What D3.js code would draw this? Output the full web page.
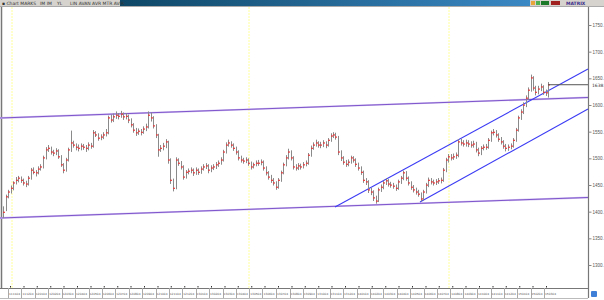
<!DOCTYPE html>
<html lang="en">
<head>
    <meta charset="UTF-8">
    <title>Price chart</title>
    <script src="https://d3js.org/d3.v7.min.js"></script>
    <style>
        body { margin: 0; background: #fff; }
        svg { display: block; font-family: "DejaVu Sans", sans-serif; }
    </style>
</head>
<body>
<svg width="604" height="300"></svg>
<script>
    // closing prices, one per bar
    var closes = [1399,1428,1437,1444,1454,1459,1463,1459,1454,1452,1463,1478,1474,1473,1480,1484,1501,1516,1519,1512,
        1510,1514,1503,1488,1478,1497,1516,1529,1525,1521,1519,1523,1521,1519,1525,1523,1548,1544,1538,1540,
        1544,1548,1576,1572,1578,1581,1579,1583,1578,1579,1572,1563,1553,1548,1551,1549,1555,1559,1581,1576,
        1561,1544,1516,1519,1523,1531,1497,1459,1444,1497,1491,1484,1465,1474,1476,1478,1473,1478,1474,1480,
        1484,1486,1478,1482,1484,1488,1491,1497,1512,1525,1529,1525,1519,1512,1501,1497,1495,1497,1491,1484,
        1488,1491,1491,1493,1482,1473,1465,1459,1454,1446,1459,1473,1488,1501,1512,1501,1484,1482,1486,1484,
        1488,1491,1506,1519,1525,1529,1525,1525,1529,1525,1534,1542,1544,1540,1512,1501,1493,1489,1493,1501,
        1497,1489,1482,1474,1459,1456,1441,1437,1426,1420,1441,1446,1454,1458,1452,1450,1448,1444,1456,1463,
        1473,1463,1454,1446,1441,1437,1433,1424,1437,1450,1459,1456,1454,1456,1458,1459,1478,1497,1503,1501,
        1503,1506,1531,1529,1527,1529,1527,1525,1527,1516,1510,1519,1521,1521,1534,1548,1549,1544,1536,1531,
        1523,1519,1521,1523,1534,1553,1576,1587,1600,1613,1628,1651,1632,1624,1630,1634,1624,1623,1638];
    var highs = [1410,1432,1441,1449,1457,1465,1467,1466,1462,1458,1467,1482,1483,1478,1485,1489,1505,1521,1525,1522,
        1516,1519,1517,1506,1491,1501,1520,1552,1533,1528,1526,1528,1527,1525,1530,1529,1553,1551,1547,1545,
        1549,1555,1580,1582,1584,1588,1585,1589,1586,1585,1582,1575,1566,1557,1556,1555,1560,1565,1588,1586,
        1579,1564,1546,1525,1529,1536,1533,1500,1462,1502,1500,1495,1487,1478,1481,1483,1481,1483,1481,1485,
        1489,1491,1489,1487,1489,1493,1496,1502,1516,1530,1535,1532,1528,1522,1515,1505,1501,1502,1500,1494,
        1492,1496,1497,1498,1496,1485,1476,1469,1463,1457,1463,1477,1492,1506,1518,1515,1504,1489,1491,1490,
        1493,1496,1510,1524,1530,1535,1532,1531,1534,1532,1538,1547,1549,1548,1542,1515,1504,1497,1498,1505,
        1504,1500,1492,1485,1477,1463,1459,1445,1440,1430,1445,1451,1458,1463,1461,1456,1454,1451,1460,1467,
        1477,1476,1466,1457,1450,1445,1441,1436,1441,1454,1464,1463,1460,1461,1463,1464,1482,1501,1508,1508,
        1509,1511,1536,1537,1534,1535,1534,1532,1533,1531,1520,1523,1526,1527,1538,1552,1555,1553,1547,1540,
        1534,1527,1526,1528,1538,1557,1580,1592,1605,1618,1633,1657,1654,1636,1636,1640,1637,1629,1643];
    var lows = [1388,1401,1425,1434,1440,1451,1455,1454,1449,1446,1449,1460,1470,1466,1470,1477,1481,1498,1512,1507,
        1504,1506,1499,1484,1472,1475,1494,1512,1520,1515,1513,1515,1516,1512,1515,1518,1520,1540,1533,1534,
        1536,1541,1545,1567,1568,1574,1573,1576,1572,1573,1566,1558,1548,1542,1544,1543,1546,1551,1556,1569,
        1556,1538,1503,1512,1515,1519,1490,1452,1438,1442,1486,1479,1460,1462,1470,1472,1467,1469,1469,1471,
        1477,1480,1472,1474,1478,1480,1484,1488,1494,1509,1522,1520,1514,1507,1496,1492,1490,1491,1486,1479,
        1481,1485,1486,1487,1477,1468,1460,1454,1449,1441,1443,1456,1470,1485,1498,1496,1479,1477,1478,1479,
        1481,1485,1488,1503,1516,1522,1520,1519,1521,1519,1522,1531,1538,1535,1506,1495,1488,1484,1485,1490,
        1492,1484,1477,1469,1454,1450,1435,1431,1420,1415,1418,1437,1442,1450,1447,1445,1443,1439,1441,1452,
        1459,1458,1449,1441,1436,1432,1428,1419,1421,1434,1446,1451,1449,1450,1452,1453,1456,1474,1492,1496,
        1497,1499,1502,1524,1522,1522,1521,1520,1520,1511,1504,1506,1515,1516,1518,1531,1543,1539,1531,1526,
        1518,1513,1514,1517,1520,1531,1550,1572,1583,1596,1609,1625,1627,1618,1620,1626,1619,1617,1614];

    // price axis ticks
    var priceTicks = [1300, 1350, 1400, 1450, 1500, 1550, 1600, 1650, 1700, 1750];

    // drawn trend lines, [bar index, price] pairs
    var upperChannel = [[-1.2, 1575.6], [234, 1614.1]];
    var lowerChannel = [[-1.2, 1388.1], [234, 1426.6]];
    var riseTop = [[132.8, 1408.8], [234, 1667.5]];
    var riseBottom = [[166.8, 1418.1], [234, 1592.5]];

    // year separators (bar index) and month boxes on the date strip
    var yearStarts = [3.6, 98.4, 178.4];
    var monthStarts = [2, 7.4, 12.7, 18.1, 23.4, 28.8, 34.2, 39.5, 44.9, 50.2, 55.6, 61, 66.3, 71.7, 77, 82.4,
        87.8, 93.1, 98.5, 103.8, 109.2, 114.6, 119.9, 125.3, 130.6, 136, 141.4, 146.7, 152.1, 157.4, 162.8,
        168.2, 173.5, 178.9, 184.2, 189.6, 195, 200.3, 205.7, 211, 216.4];
    var monthLabels = ["111104","111204","120104","120204","120304","120404","120504","120604","120704","120804",
        "120904","121004","121104","121204","130104","130204","130304","130404","130504","130604",
        "130704","130804","130904","131004","131104","131204","140104","140204","140304","140404",
        "140504","140604","140704","140804","140904","141004","141104","141204","150104","150204","150304"];

    var svg = d3.select("svg");
    var plotTop = 7, plotBottom = 288, axisX = 588;

    var x = d3.scaleLinear().domain([0, 234]).range([3, axisX]);
    var y = d3.scaleLinear().domain([1300, 1750]).range([265, 25]);

    // toolbar
    var defs = svg.append("defs");
    var grad = defs.append("linearGradient").attr("id", "bar");
    grad.append("stop").attr("offset", "0%").attr("stop-color", "#0e4766");
    grad.append("stop").attr("offset", "100%").attr("stop-color", "#3a88c4");

    svg.append("rect").attr("x", 0).attr("y", 0).attr("width", 604).attr("height", 6).attr("fill", "#d6d3ce");
    svg.append("rect").attr("x", 120).attr("y", 0).attr("width", 410).attr("height", 6).attr("fill", "url(#bar)");
    svg.append("line").attr("x1", 0).attr("x2", 604).attr("y1", 6.5).attr("y2", 6.5).attr("stroke", "#aaa");
    svg.append("text").attr("x", 2).attr("y", 5).attr("font-size", 4.5).attr("fill", "#333")
        .text("▪ Chart MARKS");
    svg.append("text").attr("x", 40).attr("y", 5).attr("font-size", 4.5).attr("fill", "#333").text("IM IM");
    svg.append("text").attr("x", 57).attr("y", 5).attr("font-size", 4.5).attr("fill", "#333").text("YL");
    svg.append("text").attr("x", 70).attr("y", 5).attr("font-size", 4.5).attr("fill", "#333").text("LIN  AVAN  AVR  MTR AVIR");
    [["#e7a43a", 531, 4], ["#4caf50", 536, 4], ["#1d7a2a", 541, 8], ["#a02020", 551, 9]].forEach(function (d) {
        svg.append("rect").attr("x", d[1]).attr("y", 1).attr("width", d[2])
            .attr("height", 4).attr("fill", d[0]);
    });
    svg.append("text").attr("x", 566).attr("y", 5).attr("font-size", 4.5).attr("fill", "#3a2a8a")
        .attr("font-weight", "bold").text("MATRIX");

    // left border and year separators
    svg.append("line").attr("x1", 1.5).attr("x2", 1.5).attr("y1", plotTop).attr("y2", plotBottom)
        .attr("stroke", "#777").attr("stroke-width", 1.5);
    svg.selectAll(".year").data(yearStarts).enter().append("line")
        .attr("x1", function (d) { return x(d); }).attr("x2", function (d) { return x(d); })
        .attr("y1", plotTop).attr("y2", plotBottom)
        .attr("stroke", "#ffff9a").attr("stroke-width", 1).attr("stroke-dasharray", "2,1");

    // trend lines
    var line = d3.line().x(function (d) { return x(d[0]); }).y(function (d) { return y(d[1]); });
    [upperChannel, lowerChannel].forEach(function (d) {
        svg.append("path").attr("d", line(d)).attr("fill", "none").attr("stroke", "#d2c3f0").attr("stroke-width", 1.8);
        svg.append("path").attr("d", line(d)).attr("fill", "none").attr("stroke", "#7f55cc").attr("stroke-width", 1);
    });
    [riseTop, riseBottom].forEach(function (d) {
        svg.append("path").attr("d", line(d)).attr("fill", "none").attr("stroke", "#3c3cf5").attr("stroke-width", 1.1);
    });

    // price bars
    var bars = svg.append("g");
    bars.selectAll("line").data(closes).enter().append("line")
        .attr("x1", function (d, i) { return Math.round(x(i)) + 0.5; })
        .attr("x2", function (d, i) { return Math.round(x(i)) + 0.5; })
        .attr("y1", function (d, i) { return y(highs[i]); })
        .attr("y2", function (d, i) { return y(lows[i]); })
        .attr("stroke", "#8a8a8a").attr("stroke-width", 1);
    bars.selectAll("rect").data(closes).enter().append("rect")
        .attr("x", function (d, i) { return Math.round(x(i)); })
        .attr("y", function (d) { return y(d) - 0.5; })
        .attr("width", 2).attr("height", 1.2)
        .attr("fill", "#e8393a");

    // last price marker
    var last = closes[closes.length - 1];
    svg.append("line").attr("x1", x(closes.length - 1)).attr("x2", axisX)
        .attr("y1", y(last)).attr("y2", y(last)).attr("stroke", "#555").attr("stroke-width", 1);

    // price axis
    svg.append("line").attr("x1", axisX + 0.5).attr("x2", axisX + 0.5).attr("y1", plotTop).attr("y2", 298)
        .attr("stroke", "#777").attr("stroke-width", 1.2);
    var yAxis = d3.axisRight(y).tickValues(priceTicks).tickSize(3)
        .tickFormat(function (d) { return d + "."; });
    var ya = svg.append("g").attr("transform", "translate(" + (axisX + 0.5) + ",0)").call(yAxis);
    ya.select(".domain").remove();
    ya.selectAll("text").attr("font-size", 4.5).attr("fill", "#555").attr("x", 4);
    ya.selectAll("line").attr("stroke", "#888");
    svg.append("text").attr("x", axisX + 4).attr("y", y(last) + 2.5).attr("font-size", 4.5).attr("fill", "#333")
        .text(last + ".");

    // date strip
    svg.append("line").attr("x1", 0).attr("x2", axisX).attr("y1", plotBottom + 0.5).attr("y2", plotBottom + 0.5)
        .attr("stroke", "#777");
    svg.append("line").attr("x1", 0).attr("x2", axisX).attr("y1", 298.5).attr("y2", 298.5).attr("stroke", "#bbb");
    var strip = svg.append("g");
    strip.selectAll("line").data(monthStarts).enter().append("line")
        .attr("x1", function (d) { return Math.round(x(d)) + 0.5; })
        .attr("x2", function (d) { return Math.round(x(d)) + 0.5; })
        .attr("y1", plotBottom).attr("y2", 298).attr("stroke", "#aaa");
    strip.selectAll("text").data(monthStarts).enter().append("text")
        .attr("x", function (d) { return x(d) + 1; }).attr("y", 295)
        .attr("font-size", 2.9).attr("fill", "#555")
        .text(function (d, i) { return monthLabels[i]; });
    svg.selectAll(".mark").data(monthStarts).enter().append("rect")
        .attr("x", function (d) { return x(d) + 2; }).attr("y", plotBottom - 2)
        .attr("width", 1).attr("height", 1.5).attr("fill", "#333");

    svg.append("rect").attr("x", 591).attr("y", 291).attr("width", 6).attr("height", 6).attr("rx", 1)
        .attr("fill", "#3f7fd8");
</script>
</body>
</html>
